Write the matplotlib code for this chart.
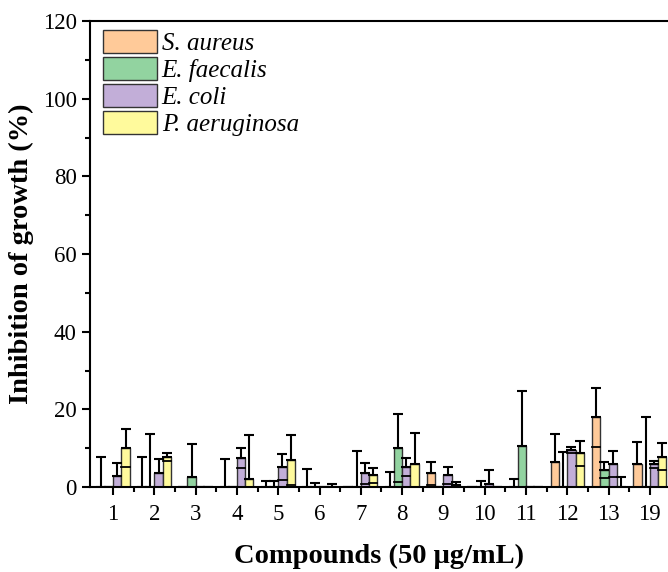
import numpy as np
import matplotlib
matplotlib.use("Agg")
import matplotlib.pyplot as plt
from matplotlib.patches import Patch

plt.rcParams['font.family'] = ['Liberation Serif', 'DejaVu Serif']

compounds = ["1", "2", "3", "4", "5", "6", "7", "8", "9", "10", "11", "12", "13", "19"]
series_names = ["S. aureus", "E. faecalis", "E. coli", "P. aeruginosa"]
colors = ["#FFCA99", "#92D3A0", "#C2AED8", "#FFFA9C"]

s_aureus = [0, 0, 0, 0, 0, 0, 0, 0, 3.5, 0, 0, 6.4, 18.0, 5.9]
s_aureus_err = [7.7, 7.7, 0, 7.2, 1.5, 4.6, 0, 3.8, 2.9, 0, 2.0, 7.2, 7.6, 5.8]
e_faecalis = [0, 0, 2.7, 0, 0, 0, 0, 10.0, 0, 0, 10.5, 0, 4.3, 0]
e_faecalis_err = [0, 13.7, 8.5, 0, 1.5, 1.0, 9.3, 8.8, 0, 1.6, 14.2, 9.0, 2.1, 18.0]
e_coli = [2.9, 3.5, 0, 7.4, 5.1, 0, 3.5, 5.2, 3.0, 0.8, 0, 9.5, 5.9, 5.8]
e_coli_err = [3.4, 3.7, 0, 2.6, 3.4, 0, 2.7, 2.3, 2.2, 3.6, 0, 0.8, 3.3, 1.0]
p_aeruginosa = [10.0, 7.8, 0, 2.0, 6.9, 0, 3.0, 5.9, 0.5, 0, 0, 8.7, 0, 7.8]
p_aeruginosa_err = [4.9, 1.0, 0, 11.4, 6.5, 0.7, 1.9, 8.1, 0.8, 0, 0, 3.2, 2.7, 3.5]

values = [s_aureus, e_faecalis, e_coli, p_aeruginosa]
errors = [s_aureus_err, e_faecalis_err, e_coli_err, p_aeruginosa_err]

fig = plt.figure(figsize=(6.68, 5.72), dpi=100)
ax = fig.add_axes([90/668, 1-487/572, (668-90)/668, (487-21)/572])

x = np.arange(len(compounds))
w = 0.2
offsets = [-0.3, -0.1, 0.1, 0.3]
for vals, errs, c, off in zip(values, errors, colors, offsets):
    v = np.array(vals, float)
    e = np.array(errs, float)
    xs = x + off
    ax.bar(xs, v, width=w, color=c, edgecolor="#333333", linewidth=1.0, zorder=2)
    ax.errorbar(xs, v, yerr=[np.zeros_like(e), e], fmt='none', ecolor='black',
                elinewidth=1.5, capsize=3.3, capthick=1.5, zorder=3)
    low = v - e
    m = (low > 0) & (e > 0)
    for xi, li in zip(xs[m], low[m]):
        ax.plot([xi - 0.1, xi + 0.1], [li, li], color='black', lw=1.3, zorder=3)

ax.set_xlim(-0.56, 13.44)
ax.set_ylim(0, 120)
ax.set_xticks(x)
ax.set_xticklabels(compounds)
ax.set_xticks(x[:-1] + 0.5, minor=True)
ax.set_yticks(np.arange(0, 121, 20))
ax.set_yticks(np.arange(10, 120, 20), minor=True)
ax.tick_params(axis='both', which='major', direction='out', length=6, width=1.5, labelsize=16.5)
ax.tick_params(axis='both', which='minor', direction='out', length=3.5, width=1.5)
ax.tick_params(axis='x', which='major', pad=6)
for s in ['left', 'bottom', 'top']:
    ax.spines[s].set_linewidth(1.5)
ax.spines['right'].set_visible(False)

ax.set_xlabel("Compounds (50 μg/mL)", fontsize=20.5, fontweight='bold', labelpad=14)
ax.set_ylabel("Inhibition of growth (%)", fontsize=20.5, fontweight='bold', labelpad=6)

handles = [Patch(facecolor=c, edgecolor="#333333", linewidth=1.0) for c in colors]
leg = ax.legend(handles, series_names, loc='upper left', bbox_to_anchor=(0.007, 1.0),
                frameon=False, prop={'style': 'italic', 'size': 18},
                handlelength=2.16, handleheight=1.05, labelspacing=0.08,
                handletextpad=0.2, borderaxespad=0.15, borderpad=0.2)

fig.savefig("out.png", dpi=100)
